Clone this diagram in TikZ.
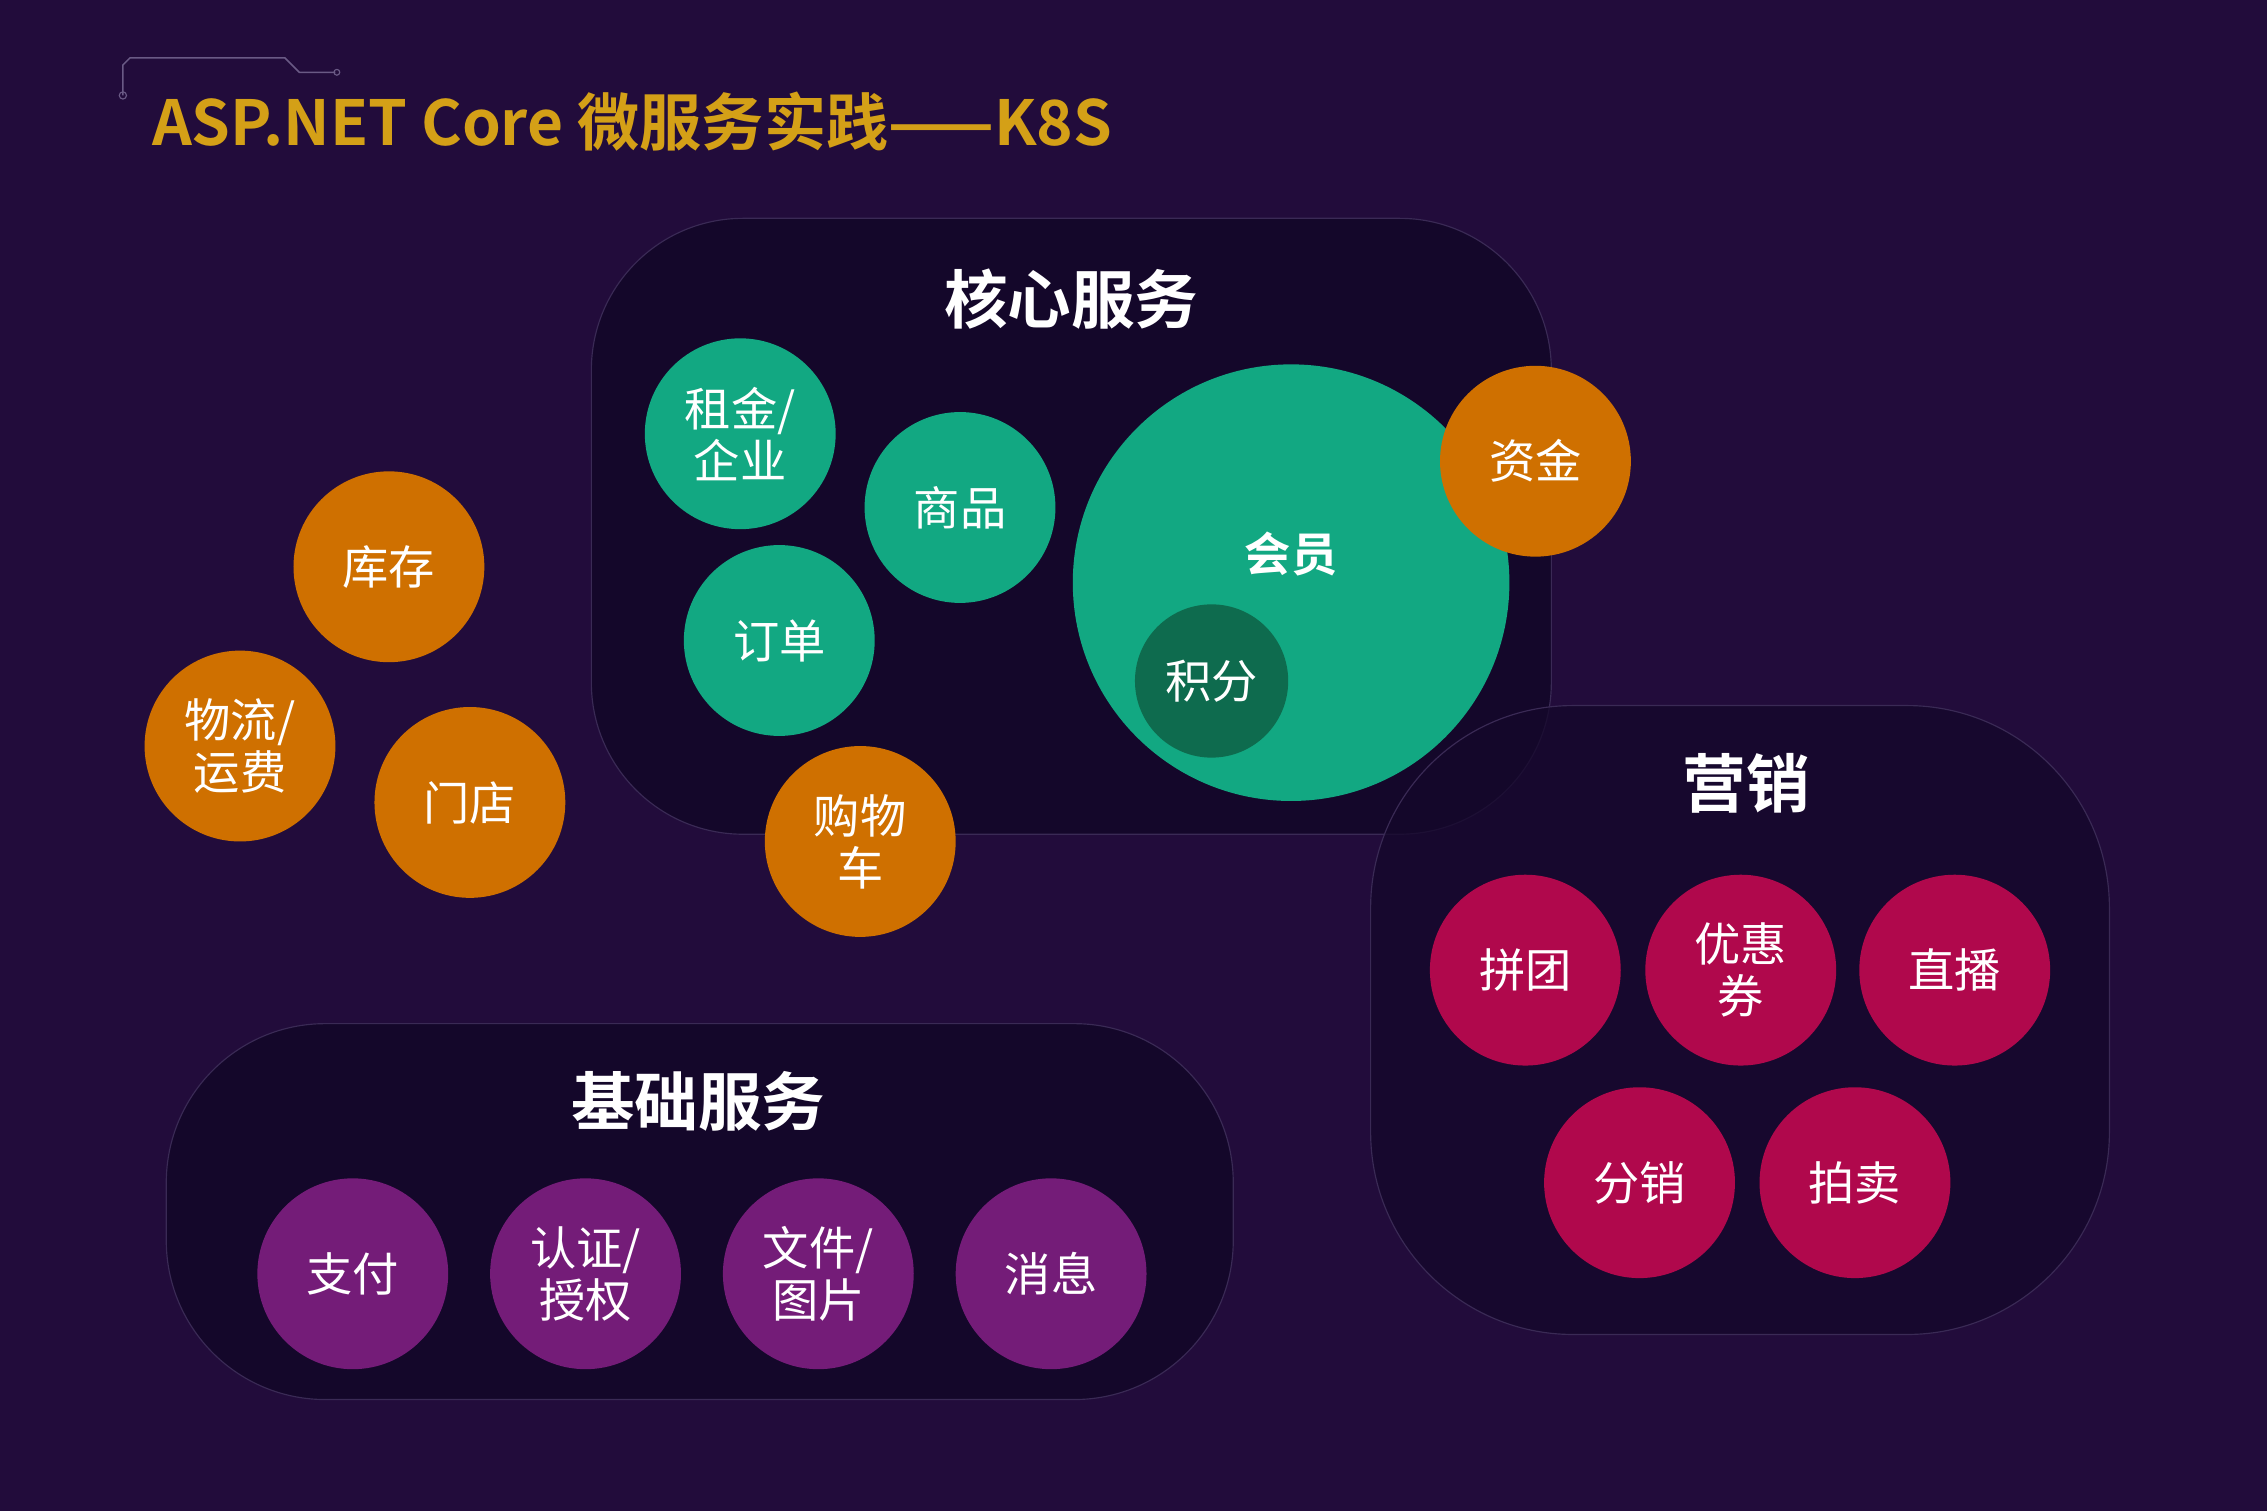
\documentclass[tikz,border=0pt]{standalone}
\usepackage{fontspec}
\setmainfont{Noto Sans CJK SC}
\newfontfamily\cjkb{Noto Sans CJK SC Bold}
\definecolor{bg}{HTML}{220C3B}
\definecolor{panel}{HTML}{14072A}
\definecolor{pedge}{HTML}{3A2A55}
\definecolor{cgreen}{HTML}{12A882}
\definecolor{dgreen}{HTML}{0E6B4E}
\definecolor{corange}{HTML}{CF7000}
\definecolor{cred}{HTML}{B0084C}
\definecolor{cpurple}{HTML}{741C78}
\definecolor{gold}{HTML}{D4A017}
\definecolor{deco}{HTML}{6A5A85}
\begin{document}
\begin{tikzpicture}[x=1pt,y=-1pt,
  ball/.style={circle,minimum size=132pt,inner sep=0pt,text=white,font=\fontsize{32}{36}\selectfont,align=center},
  gball/.style={ball,fill=cgreen},
  oball/.style={ball,fill=corange},
  rball/.style={ball,fill=cred},
  pball/.style={ball,fill=cpurple},
  ptitle/.style={text=white,font=\cjkb\fontsize{44}{48}\selectfont},
  pnl/.style={fill=panel,draw=pedge,line width=0.8pt}]
\fill[bg] (0,0) rectangle (1568,1045);
\useasboundingbox (0,0) rectangle (1568,1045);
% title decoration
\draw[deco,line width=1pt] (85,66) -- (85,45) -- (90,40) -- (197,40) -- (207,50) -- (232,50);
\draw[deco,line width=0.8pt] (85,66) circle (2.5);
\draw[deco,line width=0.8pt] (233,50) circle (2);
\node[anchor=west,text=gold,font=\cjkb\fontsize{43}{47}\selectfont,inner sep=0pt] (title) at (105,84) {ASP.NET Core 微服务实践——K8S};
% panels
\node[pnl,rounded corners=105pt,minimum width=664pt,minimum height=426pt,inner sep=0pt] (core) at (741,364) {};
\node[pnl,fill opacity=0.75,rounded corners=140pt,minimum width=511pt,minimum height=435pt,inner sep=0pt] (mkt) at (1203.5,705.5) {};
\node[pnl,rounded corners=110pt,minimum width=738pt,minimum height=260pt,inner sep=0pt] (base) at (484,838) {};
\node[ptitle] (t1) at (741,207) {核心服务};
\node[ptitle] (t2) at (1208,542) {营销};
\node[ptitle] (t3) at (483,762) {基础服务};
% core
\node[gball,minimum size=302pt] (hy) at (893,403) {};
\node[text=white,font=\cjkb\fontsize{32}{36}\selectfont] (hyl) at (893,383) {会员};
\node[ball,fill=dgreen,minimum size=106pt] (jf) at (838,471) {积分};
\node[gball] (zj) at (512,300) {租金/\\企业};
\node[gball] (sp) at (664,351) {商品};
\node[gball] (dd) at (539,443) {订单};
\node[oball] (zijin) at (1062,319) {资金};
\node[oball] (kc) at (269,392) {库存};
\node[oball] (wl) at (166,516) {物流/\\运费};
\node[oball] (md) at (325,555) {门店};
\node[oball] (gwc) at (595,582) {购物\\车};
% marketing
\node[rball] (pt) at (1055,671) {拼团};
\node[rball] (yhq) at (1204,671) {优惠\\券};
\node[rball] (zb) at (1352,671) {直播};
\node[rball] (fx) at (1134,818) {分销};
\node[rball] (pm) at (1283,818) {拍卖};
% base
\node[pball] (zf) at (244,881) {支付};
\node[pball] (rz) at (405,881) {认证/\\授权};
\node[pball] (wj) at (566,881) {文件/\\图片};
\node[pball] (xx) at (727,881) {消息};
\end{tikzpicture}
\end{document}
